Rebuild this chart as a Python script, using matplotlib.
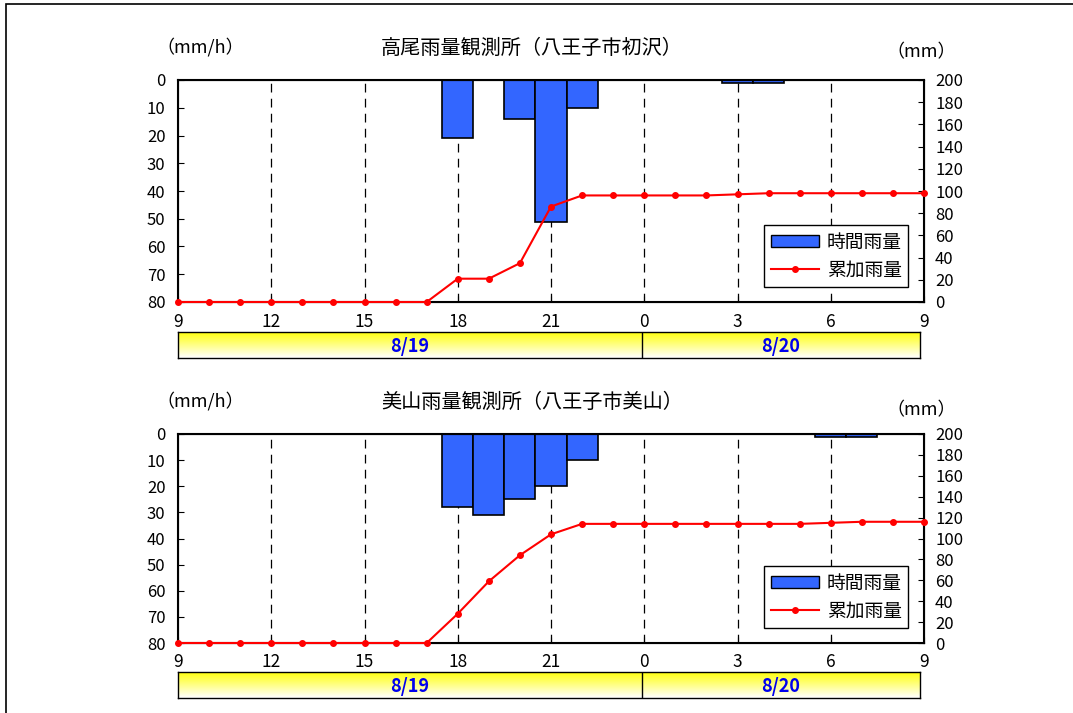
import matplotlib
matplotlib.use("Agg")
import matplotlib.pyplot as plt
import numpy as np
from matplotlib.colors import LinearSegmentedColormap
from matplotlib.patches import Rectangle
from matplotlib.lines import Line2D

plt.rcParams['font.family'] = ['Noto Sans CJK JP', 'DejaVu Sans']

# hours from 8/19 9:00 to 8/20 9:00
hour_labels = [9, 10, 11, 12, 13, 14, 15, 16, 17, 18, 19, 20, 21, 22, 23,
               0, 1, 2, 3, 4, 5, 6, 7, 8, 9]
tick_labels = ["9", "12", "15", "18", "21", "0", "3", "6", "9"]
dates = ["8/19", "8/20"]

# 高尾
takao_hourly = [0, 0, 0, 0, 0, 0, 0, 0, 0, 21, 0, 14, 51, 10, 0,
                0, 0, 0, 1, 1, 0, 0, 0, 0, 0]
takao_cum = [0, 0, 0, 0, 0, 0, 0, 0, 0, 21, 21, 35, 86, 96, 96,
             96, 96, 96, 97, 98, 98, 98, 98, 98, 98]

# 美山
miyama_hourly = [0, 0, 0, 0, 0, 0, 0, 0, 0, 28, 31, 25, 20, 10, 0,
                 0, 0, 0, 0, 0, 0, 1, 1, 0, 0]
miyama_cum = [0, 0, 0, 0, 0, 0, 0, 0, 0, 28, 59, 84, 104, 114, 114,
              114, 114, 114, 114, 114, 114, 115, 116, 116, 116]

W, H = 1073, 713
fig = plt.figure(figsize=(W / 100, H / 100), dpi=100)

# outer frame (only left and top edges are inside the picture)
fig.patches.append(Rectangle((6 / W, -0.1), 2, 1.1 - 4 / H,
                             transform=fig.transFigure, fill=False,
                             edgecolor="black", linewidth=1.2))

grad_cmap = LinearSegmentedColormap.from_list("yw", ["#FFFF10", "#FFFFFF"])
narrow = ['Liberation Sans Narrow', 'DejaVu Sans Condensed', 'Noto Sans CJK JP']


def panel(top_px, bot_px, bar_top_px, title, hourly, cum, mm_y, leg_y):
    x = np.arange(len(hour_labels))
    left = 178 / W
    width = (924 - 178) / W
    ax = fig.add_axes([left, 1 - bot_px / H, width, (bot_px - top_px) / H])
    ax.bar(x, hourly, width=1.0, color="#3366FF", edgecolor="black", linewidth=1.2,
           zorder=2)
    ax.set_ylim(80, 0)
    ax.set_xlim(0, 24)
    ax.set_yticks(range(0, 81, 10))
    ax.tick_params(axis="y", direction="in", length=4, labelsize=12, pad=9)
    ax.tick_params(axis="x", direction="in", length=4, labelbottom=False)
    ax.set_xticks(range(0, 25, 3))
    for v in range(3, 24, 3):
        ax.axvline(v, color="black", linestyle=(0, (7, 5)), linewidth=0.9, zorder=1)
    for s in ax.spines.values():
        s.set_linewidth(1.5)

    ax2 = ax.twinx()
    ax2.plot(x, cum, color="red", marker="o", markersize=4, linewidth=1.5,
             clip_on=False, zorder=3)
    ax2.set_ylim(0, 200)
    ax2.set_yticks(range(0, 201, 20))
    ax2.tick_params(axis="y", direction="in", length=4, labelsize=12, pad=8)
    ax2.set_xlim(0, 24)

    handles = [Rectangle((0, 0), 1, 1, facecolor="#3366FF", edgecolor="black"),
               Line2D([], [], color="red", marker="o", markersize=4, linewidth=1.5)]
    leg = ax2.legend(handles, ["時間雨量", "累加雨量"], loc="lower right",
                     bbox_to_anchor=(0.979, leg_y), borderaxespad=0,
                     fontsize=13.5, frameon=True,
                     fancybox=False, edgecolor="black", framealpha=1,
                     handlelength=2.6, handleheight=0.6, handletextpad=0.4,
                     borderpad=0.35, labelspacing=0.35)
    leg.get_frame().set_linewidth(1)

    fig.text(532 / W, 1 - (top_px - 32) / H, title, ha="center", va="center",
             fontsize=14.5)
    fig.text(200 / W, 1 - (top_px - 33) / H, "（mm/h）", ha="center", va="center",
             fontsize=13)
    fig.text(921 / W, 1 - mm_y / H, "（mm）", ha="center", va="center", fontsize=13)

    # date bar
    bax = fig.add_axes([left, 1 - (bar_top_px + 26) / H, (920 - 178) / W, 26 / H])
    grad = np.linspace(0, 1, 50).reshape(-1, 1)
    bax.imshow(grad, aspect="auto", cmap=grad_cmap, extent=[0, 24, 0, 1])
    bax.set_xlim(0, 24)
    bax.set_ylim(0, 1)
    bax.axvline(15, color="black", linewidth=1)
    bax.set_yticks([])
    bax.set_xticks([])
    for s in bax.spines.values():
        s.set_linewidth(1)
    for i, t in enumerate(tick_labels):
        fig.text(left + width * i / 8, 1 - (bar_top_px - 1) / H, t, ha="center",
                 va="bottom", fontsize=12.5, family=narrow)
    bax.text(7.5, 0.45, dates[0], ha="center", va="center", color="#0000EE",
             fontsize=13, fontweight="bold", family=narrow)
    bax.text(19.5, 0.45, dates[1], ha="center", va="center", color="#0000EE",
             fontsize=13, fontweight="bold", family=narrow)


panel(80, 302, 332, "高尾雨量観測所（八王子市初沢）", takao_hourly, takao_cum, 52, 0.068)
panel(434, 643, 672, "美山雨量観測所（八王子市美山）", miyama_hourly, miyama_cum, 410, 0.072)

fig.savefig("out.png", dpi=100)
